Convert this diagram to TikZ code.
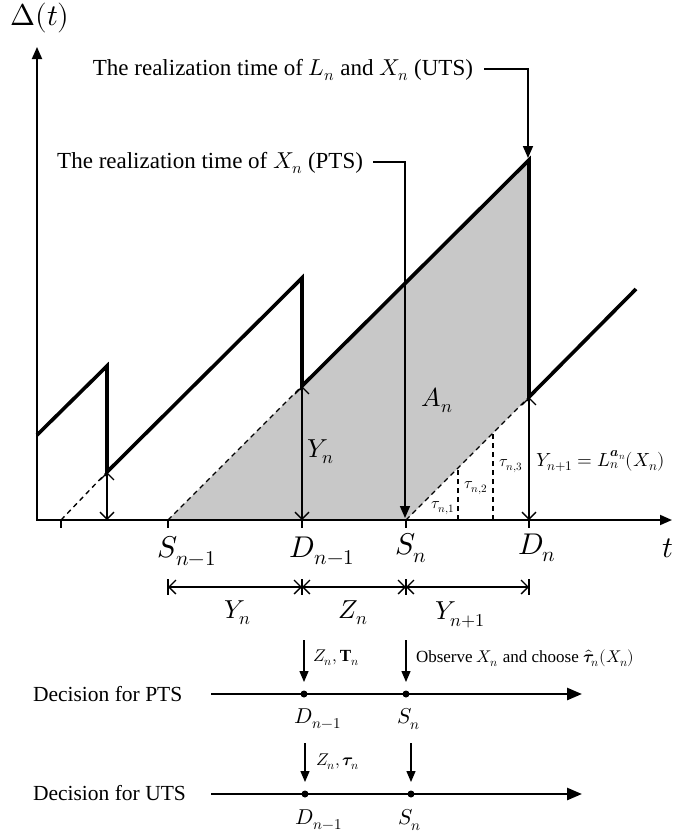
\documentclass[tikz,border=0pt]{standalone}
\usepackage{amsmath}
\usepackage{fontspec}
\usepackage{unicode-math}
\setmainfont{Liberation Serif}
\setmathfont{Latin Modern Math}
\usetikzlibrary{arrows.meta}
\definecolor{shadegray}{RGB}{200,200,200}
\newcommand{\fhuge}{\fontsize{30}{34}\selectfont}
\newcommand{\fbig}{\fontsize{26}{30}\selectfont}
\newcommand{\ftext}{\fontsize{23}{27}\selectfont}
\newcommand{\fmid}{\fontsize{21.5}{25}\selectfont}
\newcommand{\flab}{\fontsize{19}{22}\selectfont}
\newcommand{\fsmall}{\fontsize{17}{20}\selectfont}
\newcommand{\ftiny}{\fontsize{16}{18}\selectfont}
\begin{document}
\begin{tikzpicture}[x=1pt,y=-1pt,
  lbl/.style={inner sep=0pt,outer sep=0pt},
  axisline/.style={line width=1.8pt,{Triangle[length=12pt,width=10pt]}-{Triangle[length=12pt,width=10pt]}},
  saw/.style={line width=3.6pt,line join=miter,miter limit=4},
  dsh/.style={line width=1.3pt,dash pattern=on 5pt off 4pt},
  dbl/.style={line width=1.3pt,{Straight Barb[length=7pt,width=14pt,line width=1.3pt]}-{Straight Barb[length=7pt,width=14pt,line width=1.3pt]}},
  callarrow/.style={line width=1.6pt,-{Triangle[length=12pt,width=10pt]}},
  decline/.style={line width=2.6pt,-{Triangle[length=15pt,width=12pt]}},
  decarrow/.style={line width=1.3pt,-{Triangle[length=11pt,width=9pt]}},
  tickline/.style={line width=1.5pt}]
\useasboundingbox (0,0) rectangle (696,833);
% key points
\coordinate (O) at (37,520);
\coordinate (Ytop) at (37,47);
\coordinate (Xend) at (672,520);
\coordinate (T0) at (61,520);
\coordinate (Sp) at (168,520);
\coordinate (Dp) at (302,520);
\coordinate (Sn) at (406,520);
\coordinate (Dn) at (529,520);
\coordinate (A0) at (37,435);
\coordinate (A1) at (107,366);
\coordinate (P1) at (107,472);
\coordinate (Base1) at (107,520);
\coordinate (A2) at (302,278);
\coordinate (P2) at (302,386);
\coordinate (Pk) at (529,160);
\coordinate (P3) at (529,397);
\coordinate (A4) at (636,289);
% shaded area
\fill[shadegray] (Sp) -- (P2) -- (Pk) -- (P3) -- (Sn) -- cycle;
% axes
\draw[axisline] (Ytop) -- (O) -- (Xend);
\foreach \c in {T0,Sp,Dp,Sn,Dn} \draw[tickline] (\c) -- ++(0,8);
% dashed lines
\draw[dsh] (T0) -- (P1);
\draw[dsh] (Sp) -- (P2);
\draw[dsh] (Sn) -- (P3);
% tau dashed
\coordinate (Q1) at (458,468);
\coordinate (Q1b) at (458,520);
\coordinate (Q2) at (493,433);
\coordinate (Q2b) at (493,520);
\draw[dsh] (Q1b) -- (Q1);
\draw[dsh] (Q2b) -- (Q2);
% sawtooth
\draw[saw] (A0) -- (A1) -- (P1) -- (A2) -- (P2) -- (Pk) -- (P3) -- (A4);
% vertical double arrows
\draw[dbl] (P1) -- (Base1);
\draw[dbl] (P2) -- (Dp);
\draw[dbl] (P3) -- (Dn);
% callouts
\node[lbl,anchor=east,font=\ftext] (ptstxt) at (363,163) {The realization time of $X_n$ (PTS)};
\node[lbl,anchor=east,font=\ftext] (utstxt) at (473,70) {The realization time of $L_n$ and $X_n$ (UTS)};
\coordinate (c1) at (373,162);
\coordinate (c2) at (405,162);
\coordinate (c3) at (405,518);
\coordinate (u1) at (484,69);
\coordinate (u2) at (528,69);
\coordinate (u3) at (528,158);
\draw[callarrow] (c1) -- (c2) -- (c3);
\draw[callarrow] (u1) -- (u2) -- (u3);
% labels on chart
\node[lbl,font=\fhuge] (delta) at (40,18) {$\Delta(t)$};
\node[lbl,font=\fhuge] (tl) at (668,548) {$t$};
\node[lbl,font=\fhuge] (lSp) at (187,551) {$S_{n-1}$};
\node[lbl,font=\fhuge] (lDp) at (322,551) {$D_{n-1}$};
\node[lbl,font=\fhuge] (lSn) at (411,548) {$S_n$};
\node[lbl,font=\fhuge] (lDn) at (537,548) {$D_n$};
\node[lbl,font=\fbig] (lYn) at (321,452) {$Y_n$};
\node[lbl,font=\fbig] (lAn) at (437,400) {$A_n$};
\node[lbl,anchor=west,font=\flab] (lY1) at (536,461) {$Y_{n+1}=L_n^{\symbfit{a}_n}(X_n)$};
\node[lbl,font=\ftiny] (t1) at (443,508) {$\tau_{n,1}$};
\node[lbl,font=\ftiny] (t2) at (476,488) {$\tau_{n,2}$};
\node[lbl,font=\ftiny] (t3) at (511,466) {$\tau_{n,3}$};
% interval arrows
\coordinate (IA) at (168,587);
\coordinate (IB) at (302,587);
\coordinate (IC) at (406,587);
\coordinate (ID) at (529,587);
\draw[dbl] (IA) -- (IB);
\draw[dbl] (IB) -- (IC);
\draw[dbl] (IC) -- (ID);
\foreach \c in {IA,IB,IC,ID} \draw[line width=1.3pt] (\c) ++(0,-8) -- ++(0,16);
\node[lbl,font=\fbig] (iY) at (238,613) {$Y_n$};
\node[lbl,font=\fbig] (iZ) at (353,613) {$Z_n$};
\node[lbl,font=\fbig] (iY1) at (460,615) {$Y_{n+1}$};
% decision for PTS
\node[lbl,anchor=west,font=\fmid] (dpts) at (33,694) {Decision for PTS};
\coordinate (L1s) at (211,694);
\coordinate (L1e) at (582,694);
\draw[decline] (L1s) -- (L1e);
\coordinate (d1) at (304,694);
\coordinate (d2) at (406,694);
\fill (d1) circle (3.5pt);
\fill (d2) circle (3.5pt);
\coordinate (a1) at (304,640);
\coordinate (a1e) at (304,682);
\coordinate (a2) at (406,640);
\coordinate (a2e) at (406,682);
\draw[decarrow] (a1) -- (a1e);
\draw[decarrow] (a2) -- (a2e);
\node[lbl,anchor=west,font=\fsmall] (zt) at (313,658) {$Z_n, \mathbf{T}_n$};
\node[lbl,anchor=west,font=\fsmall] (obs) at (416,658) {Observe $X_n$ and choose $\hat{\symbfit{\tau}}_n(X_n)$};
\node[lbl,font=\fmid] (pD) at (318,719) {$D_{n-1}$};
\node[lbl,font=\fmid] (pS) at (409,719) {$S_n$};
% decision for UTS
\node[lbl,anchor=west,font=\fmid] (duts) at (33,793) {Decision for UTS};
\coordinate (L2s) at (211,794);
\coordinate (L2e) at (582,794);
\draw[decline] (L2s) -- (L2e);
\coordinate (e1) at (305,794);
\coordinate (e2) at (411,794);
\fill (e1) circle (3.5pt);
\fill (e2) circle (3.5pt);
\coordinate (b1) at (305,743);
\coordinate (b1e) at (305,782);
\coordinate (b2) at (411,743);
\coordinate (b2e) at (411,782);
\draw[decarrow] (b1) -- (b1e);
\draw[decarrow] (b2) -- (b2e);
\node[lbl,anchor=west,font=\fsmall] (ztau) at (316,762) {$Z_n, \symbfit{\tau}_n$};
\node[lbl,font=\fmid] (uD) at (319,820) {$D_{n-1}$};
\node[lbl,font=\fmid] (uS) at (410,820) {$S_n$};
\end{tikzpicture}
\end{document}
